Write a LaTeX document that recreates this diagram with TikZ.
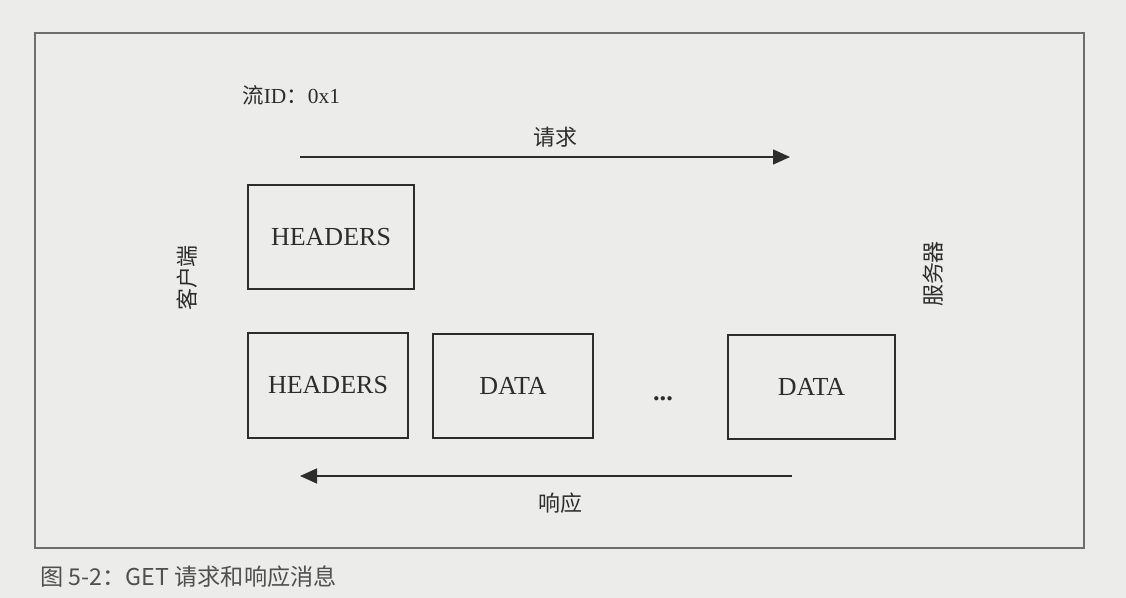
\documentclass[tikz,border=0pt]{standalone}
\usepackage{fontspec}
\setmainfont{Liberation Serif}
\newfontfamily\cjk{Noto Sans CJK SC}
\usetikzlibrary{arrows.meta}
\definecolor{paper}{RGB}{236,236,234}
\definecolor{ink}{RGB}{45,45,45}
\definecolor{rulegray}{RGB}{110,110,110}
\definecolor{captext}{RGB}{80,80,80}

\begin{document}
\begin{tikzpicture}[
    pkt/.style={draw=ink,line width=1.25pt,minimum height=2.09cm,
        font=\fontsize{14.8}{16}\selectfont,text=ink},
    msg/.style={draw=ink,line width=0.85pt,-{Triangle[length=0.34cm,width=0.3cm]}},
    lbl/.style={font=\cjk\fontsize{12.5}{14}\selectfont,text=ink}
]
% Page
\fill[paper] (0,0) rectangle (22.52,-11.96);
\useasboundingbox (0,0) rectangle (22.52,-11.96);
\draw[rulegray,line width=0.8pt] (0.70,-0.66) rectangle (21.68,-10.96);

% Stream
\node[anchor=west,inner sep=0,text=ink,font=\fontsize{12.2}{14}\selectfont] (sid) at (4.84,-1.9){{\cjk 流}ID{\cjk ：}0x1};
\node[lbl,rotate=90] (client) at (3.74,-5.56){客户端};
\node[lbl,rotate=90] (server) at (18.66,-5.48){服务器};

% Frames
\node[pkt,minimum width=3.32cm] (hreq) at (6.62,-4.74){HEADERS};
\node[pkt,minimum width=3.2cm] (hres) at (6.56,-7.71){HEADERS};
\node[pkt,minimum width=3.2cm] (d1) at (10.26,-7.72){DATA};
\node[text=ink,font=\bfseries\fontsize{15}{16}\selectfont] (dots) at (13.26,-7.98){...};
\node[pkt,minimum width=3.34cm] (dn) at (16.23,-7.74){DATA};

% Request / response
\coordinate (reqa) at (6.0,-3.14);
\coordinate (reqb) at (15.8,-3.14);
\coordinate (resa) at (15.84,-9.52);
\coordinate (resb) at (6.0,-9.52);
\draw[msg] (reqa) -- (reqb);
\draw[msg] (resa) -- (resb);
\node[lbl] (req) at (11.1,-2.74){请求};
\node[lbl] (res) at (11.2,-10.06){响应};

% Caption
\node[anchor=west,inner sep=0,text=captext,font=\cjk\fontsize{13.2}{15}\selectfont] (cap) at (0.8,-11.54){图 5-2：GET 请求和响应消息};
\end{tikzpicture}
\end{document}
